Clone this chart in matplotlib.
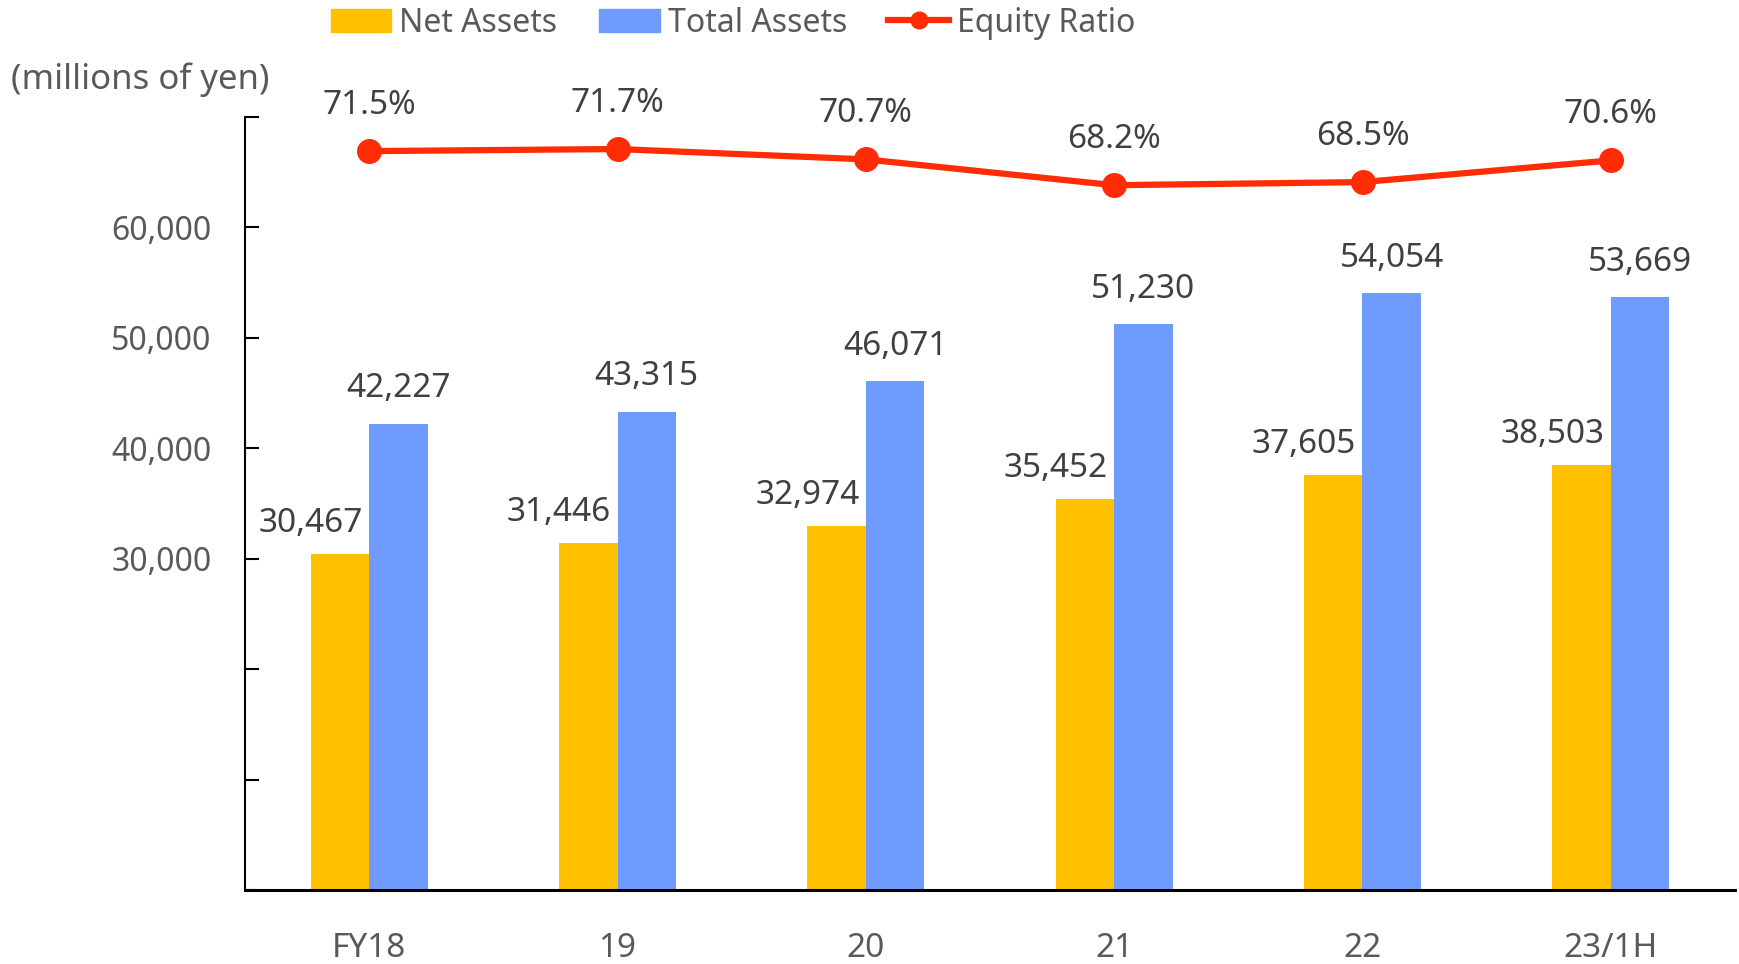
import matplotlib
matplotlib.use("Agg")
import matplotlib.pyplot as plt
import numpy as np
from matplotlib.patches import Patch
from matplotlib.lines import Line2D

plt.rcParams['font.family'] = ['Noto Sans', 'DejaVu Sans']

categories = ["FY18", "19", "20", "21", "22", "23/1H"]
net_assets = [30467, 31446, 32974, 35452, 37605, 38503]
total_assets = [42227, 43315, 46071, 51230, 54054, 53669]
equity_ratio = [71.5, 71.7, 70.7, 68.2, 68.5, 70.6]
y_ticks = [0, 10000, 20000, 30000, 40000, 50000, 60000, 70000]
y_tick_labels = ["", "", "", "30,000", "40,000", "50,000", "60,000", ""]

C_NET = "#FFC000"
C_TOT = "#6E9BFC"
C_EQ = "#FF2C05"
C_TXT = "#404040"
C_TICK = "#595959"

fig = plt.figure(figsize=(17.39, 9.64), dpi=100)
ax = fig.add_axes([245/1739, 74/964, 1490/1739, 773/964])

x = np.arange(len(categories))
w = 0.235
ax.bar(x - w/2, net_assets, width=w, color=C_NET, zorder=2)
ax.bar(x + w/2, total_assets, width=w, color=C_TOT, zorder=2)

for xi, v in zip(x, net_assets):
    ax.annotate(f"{v:,}", (xi - w, v), xytext=(0, 30), textcoords="offset pixels",
                ha="center", va="center", fontsize=24, color=C_TXT)
for xi, v in zip(x, total_assets):
    ax.annotate(f"{v:,}", (xi + w/2, v), xytext=(0, 35), textcoords="offset pixels",
                ha="center", va="center", fontsize=24, color=C_TXT)

ax.set_xlim(-0.5, len(categories) - 0.5)
ax.set_ylim(0, 70000)
ax.set_yticks(y_ticks)
ax.set_yticklabels(y_tick_labels)
ax.set_xticks(x)
ax.set_xticklabels(categories)
ax.tick_params(axis='y', direction='in', length=10, width=1.5, pad=24,
               labelsize=23, labelcolor=C_TICK, color='black')
ax.tick_params(axis='x', length=0, pad=30, labelsize=24, labelcolor=C_TICK)
for s in ['top', 'right']:
    ax.spines[s].set_visible(False)
ax.spines['left'].set_linewidth(1.5)
ax.spines['bottom'].set_linewidth(2.2)

ax2 = ax.twinx()
ax2.set_ylim(0, 74.8)
ax2.plot(x, equity_ratio, color=C_EQ, lw=4.5, marker='o', markersize=17, zorder=3)
for xi, v in zip(x, equity_ratio):
    ax2.annotate(f"{v}%", (xi, v), xytext=(0, 46), textcoords="offset pixels",
                 ha="center", va="center", fontsize=24, color=C_TXT)
ax2.axis('off')

fig.text(11/1739, 1 - 80/964, "(millions of yen)", fontsize=25, color=C_TICK,
         ha="left", va="center")

handles = [Patch(color=C_NET), Patch(color=C_TOT),
           Line2D([0], [0], color=C_EQ, lw=4.5, marker='o', markersize=12)]
fig.legend(handles, ["Net Assets", "Total Assets", "Equity Ratio"],
           loc="center", bbox_to_anchor=(733/1739, 1 - 23/964), ncol=3,
           frameon=False, fontsize=23, labelcolor=C_TICK,
           handlelength=1.9, handleheight=0.7, handletextpad=0.25,
           columnspacing=1.3, borderpad=0)

fig.savefig("out.png", dpi=100)
